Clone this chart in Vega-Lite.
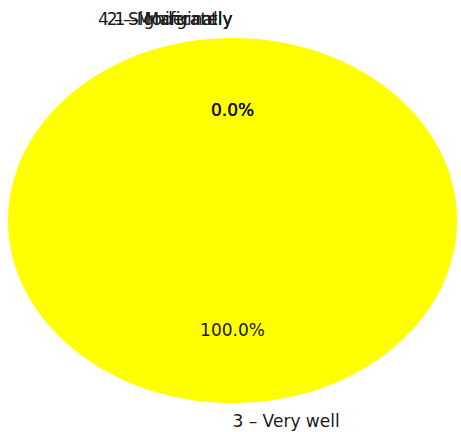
{
  "$schema": "https://vega.github.io/schema/vega-lite/v6.json",
  "width": 461,
  "height": 432,
  "autosize": {"type": "fit", "contains": "padding"},
  "padding": {"left": 4, "top": 9, "right": 0, "bottom": 0},
  "background": "white",
  "config": {"view": {"stroke": null}},
  "data": {
    "values": [
      {"category": "4 – Significantly", "share": 0},
      {"category": "2 – Moderately", "share": 0},
      {"category": "1 – Marginally", "share": 0},
      {"category": "3 – Very well", "share": 1}
    ]
  },
  "layer": [
    {
      "mark": {
        "type": "point",
        "filled": true,
        "opacity": 1,
        "strokeWidth": 0,
        "shape": "M-1,0C-1,-0.449,-0.552,-0.813,0,-0.813C0.552,-0.813,1,-0.449,1,0C1,0.449,0.552,0.813,0,0.813C-0.552,0.813,-1,0.449,-1,0Z"
      },
      "encoding": {
        "size": {"field": "share", "type": "quantitative", "scale": {"domain": [0, 1], "range": [0, 201601]}, "legend": null},
        "color": {
          "field": "category",
          "type": "nominal",
          "scale": {
            "domain": ["1 – Marginally", "2 – Moderately", "3 – Very well", "4 – Significantly"],
            "range": ["#1f77b4", "#ff7f0e", "#ffff00", "#d62728"]
          },
          "legend": null
        }
      }
    },
    {
      "transform": [{"filter": "datum.share == 0"}],
      "mark": {"type": "text", "radius": 201, "align": "right", "baseline": "middle", "font": "DejaVu Sans", "fontSize": 17, "color": "#1a1a1a"},
      "encoding": {
        "theta": {"field": "share", "type": "quantitative", "stack": true},
        "text": {"field": "category", "type": "nominal"}
      }
    },
    {
      "transform": [{"filter": "datum.share > 0"}],
      "mark": {"type": "text", "radius": 201, "align": "left", "baseline": "middle", "font": "DejaVu Sans", "fontSize": 17, "color": "#1a1a1a"},
      "encoding": {
        "theta": {"field": "share", "type": "quantitative", "stack": true},
        "text": {"field": "category", "type": "nominal"}
      }
    },
    {
      "mark": {"type": "text", "radius": 110, "align": "center", "baseline": "middle", "font": "DejaVu Sans", "fontSize": 17, "color": "#1a1a1a"},
      "encoding": {
        "theta": {"field": "share", "type": "quantitative", "stack": true},
        "text": {"field": "share", "type": "quantitative", "format": ".1%"}
      }
    }
  ]
}
